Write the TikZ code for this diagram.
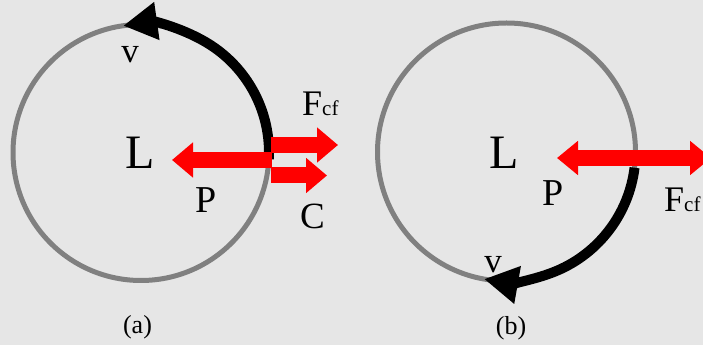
\documentclass[tikz,border=0pt]{standalone}
\usepackage{fontspec}
\setmainfont{Liberation Serif}
\usetikzlibrary{arrows.meta,calc}
\definecolor{bgray}{HTML}{E6E6E6}
\definecolor{rgray}{HTML}{808080}
\newcommand{\fsz}[1]{\fontsize{#1}{#1}\selectfont}
\begin{document}
\begin{tikzpicture}[x=1pt,y=1pt,line join=round,
		ring/.style={draw=rgray,line width=5pt},
		vel/.style={draw=black,line width=10pt,-{Triangle[length=34pt,width=36pt]}},
		force/.style={draw=red,line width=16pt,-{Triangle[length=21pt,width=34pt]}},
		lbl/.style={inner sep=0pt}]
	\fill[bgray] (0,0) rectangle (703,345);
	\useasboundingbox (0,0) rectangle (703,345);
	% (a)
	\coordinate (ca) at (141,192.5);
	\draw[ring] (ca) circle[radius=128];
	\draw[vel] ($(ca)+(-3:128)$) arc[start angle=-3,end angle=98,radius=128];
	\coordinate (pa0) at (272,185);
	\coordinate (pa1) at (172,185);
	\coordinate (fa0) at (271,200);
	\coordinate (fa1) at (338,200);
	\coordinate (sa0) at (271,169.5);
	\coordinate (sa1) at (327,169.5);
	\draw[force] (fa0) -- (fa1);
	\draw[force] (sa0) -- (sa1);
	\draw[force] (pa0) -- (pa1);
	\node[lbl] (la) at (140.5,192) {\fsz{48}L};
	\node[lbl] (va) at (130,290) {\fsz{35}v};
	\node[lbl] (pla) at (206.5,145) {\fsz{38}P};
	\node[lbl] (cla) at (312.5,128.5) {\fsz{37}C};
	\node[lbl,anchor=base west] (fla) at (302,229) {\fsz{36}F\fsz{21}cf};
	\node[lbl] (capa) at (137.5,18) {\fsz{26}(a)};
	% (b)
	\coordinate (cb) at (506.5,193);
	\draw[ring] (cb) circle[radius=129];
	\draw[vel] ($(cb)+(-7:129)$) arc[start angle=-7,end angle=-100,radius=129];
	\coordinate (pb1) at (557,187);
	\coordinate (fb1) at (711,187);
	\draw[force,{Triangle[length=21pt,width=33pt]}-{Triangle[length=21pt,width=33pt]}] (pb1) -- (fb1);
	\node[lbl] (lb) at (504,192.5) {\fsz{48}L};
	\node[lbl] (vb) at (493,80.5) {\fsz{35}v};
	\node[lbl] (plb) at (553,151.5) {\fsz{38}P};
	\node[lbl,anchor=base west] (flb) at (664,133) {\fsz{36}F\fsz{21}cf};
	\node[lbl] (capb) at (511,17) {\fsz{26}(b)};
\end{tikzpicture}
\end{document}
